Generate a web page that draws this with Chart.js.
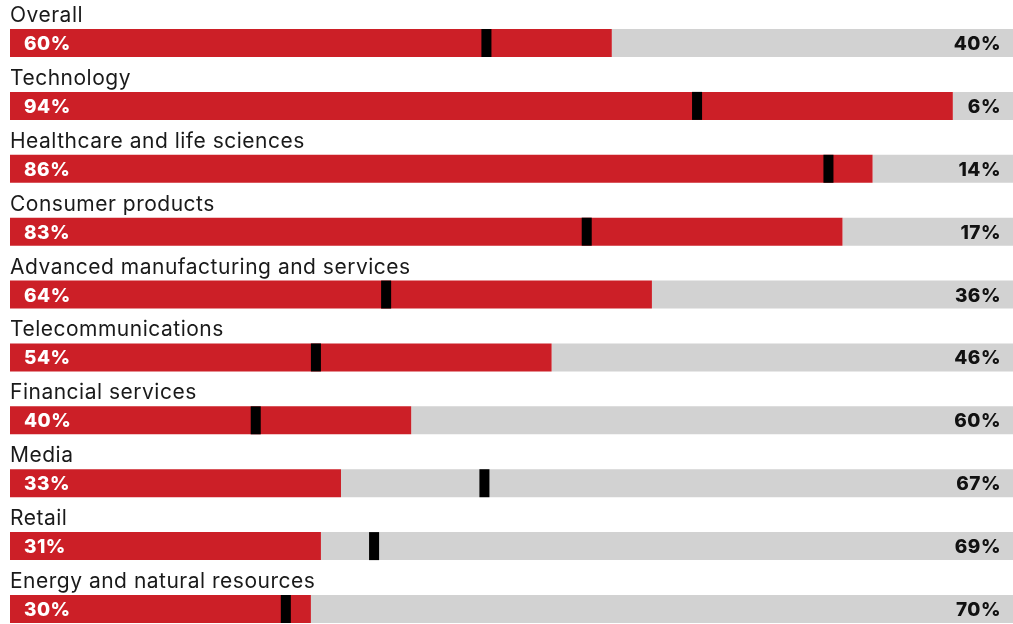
<!DOCTYPE html>
<html>
<head>
<meta charset="utf-8">
<script src="https://cdn.jsdelivr.net/npm/chart.js@4.4.0/dist/chart.umd.min.js"></script>
<style>
html,body{margin:0;padding:0;background:#fff;}
#wrap{position:relative;width:1013px;height:624px;}
</style>
</head>
<body>
<div id="wrap"><canvas id="c"></canvas></div>
<script>
const categories = ["Overall","Technology","Healthcare and life sciences","Consumer products","Advanced manufacturing and services","Telecommunications","Financial services","Media","Retail","Energy and natural resources"];
const yesValues = [60,94,86,83,64,54,40,33,31,30];
const noValues = [40,6,14,17,36,46,60,67,69,70];
const markerValues = [47.5,68.5,81.6,57.5,37.5,30.5,24.5,47.3,36.3,27.5];

const RED = '#cc1f27';
const GREY = '#d2d2d2';
const FONT = 'Inter, "Noto Sans", sans-serif';

const labelPlugin = {
  id: 'rowLabels',
  afterDatasetsDraw(chart) {
    const ctx = chart.ctx;
    const area = chart.chartArea;
    const redMeta = chart.getDatasetMeta(1);
    const greyMeta = chart.getDatasetMeta(2);
    ctx.save();
    redMeta.data.forEach((bar, i) => {
      const h = bar.height;
      const top = bar.y - h / 2;
      ctx.textBaseline = 'alphabetic';
      ctx.letterSpacing = '0.5px';
      ctx.font = '400 21px ' + FONT;
      ctx.fillStyle = '#1a1a1a';
      ctx.textAlign = 'left';
      ctx.fillText(categories[i], area.left, top - 7);
      ctx.letterSpacing = '0.5px';
      ctx.font = '800 19px ' + FONT;
      ctx.fillStyle = '#ffffff';
      ctx.fillText(yesValues[i] + '%', area.left + 14, bar.y + 7);
      ctx.fillStyle = '#111111';
      ctx.textAlign = 'right';
      const g = greyMeta.data[i];
      ctx.fillText(noValues[i] + '%', area.right - 12, g.y + 7);
    });
    ctx.restore();
  }
};

new Chart(document.getElementById('c'), {
  type: 'bar',
  data: {
    labels: categories,
    datasets: [
      {
        label: 'marker',
        data: markerValues.map(v => [v - 0.5, v + 0.5]),
        backgroundColor: '#000000',
        stack: 'm',
        grouped: false,
        order: 0,
        clip: false
      },
      {
        label: 'yes',
        data: yesValues,
        backgroundColor: RED,
        stack: 's',
        grouped: false,
        order: 2,
        clip: false
      },
      {
        label: 'no',
        data: noValues,
        backgroundColor: GREY,
        stack: 's',
        grouped: false,
        order: 2,
        clip: false
      }
    ]
  },
  options: {
    indexAxis: 'y',
    responsive: true,
    maintainAspectRatio: false,
    animation: false,
    datasets: { bar: { barPercentage: 0.9, categoryPercentage: 1, maxBarThickness: 28, borderWidth: 0 } },
    layout: { padding: { left: 10, right: 0, top: 43, bottom: 15 } },
    plugins: { legend: { display: false }, tooltip: { enabled: false } },
    scales: {
      x: { stacked: true, min: 0, max: 100, display: false },
      y: { stacked: true, display: false, offset: false }
    }
  },
  plugins: [labelPlugin]
});
</script>
</body>
</html>
